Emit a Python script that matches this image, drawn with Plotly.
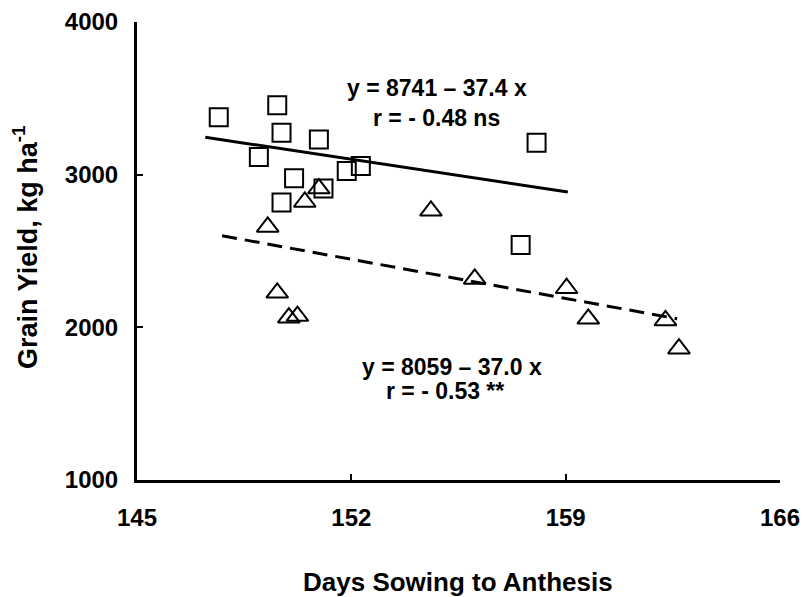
import plotly.graph_objects as go

# Squares series (upper group)
sq_days = [147.67, 149.58, 149.72, 150.94, 148.98, 150.13, 149.72, 151.09, 151.85, 152.31, 158.05, 157.53]
sq_yield = [3376, 3454, 3274, 3230, 3115, 2976, 2817, 2909, 3024, 3056, 3209, 2539]

# Triangles series (lower group)
tr_days = [149.27, 150.48, 150.94, 149.58, 149.96, 150.24, 154.6, 156.03, 159.03, 159.74, 162.26, 162.7]
tr_yield = [2658, 2821, 2909, 2226, 2063, 2074, 2763, 2317, 2256, 2056, 2045, 1860]

# Regression lines (end points)
fit1_days = [147.23, 159.07]
fit1_yield = [3245, 2887]
fit2_days = [147.78, 162.64]
fit2_yield = [2600, 2056]

x_ticks = [145, 152, 159, 166]
y_ticks = [1000, 2000, 3000, 4000]

FONT = "Liberation Sans, Arial, sans-serif"

fig = go.Figure()
fig.add_trace(go.Scatter(x=fit1_days, y=fit1_yield, mode="lines",
                         line=dict(color="black", width=3), showlegend=False))
fig.add_trace(go.Scatter(x=fit2_days, y=fit2_yield, mode="lines",
                         line=dict(color="black", width=3, dash="15px,8px"), showlegend=False))
fig.add_trace(go.Scatter(x=sq_days, y=sq_yield, mode="markers",
                         marker=dict(symbol="square-open", size=18, color="black",
                                     line=dict(color="black", width=2)),
                         showlegend=False))
fig.add_trace(go.Scatter(x=tr_days, y=tr_yield, mode="markers",
                         marker=dict(symbol="triangle-up-open", size=19, color="black",
                                     line=dict(color="black", width=2)),
                         showlegend=False))

axis_common = dict(showgrid=False, zeroline=False, showline=True, linecolor="black",
                   linewidth=3, ticks="inside", ticklen=6, tickwidth=2, tickcolor="black",
                   tickfont=dict(family=FONT, size=24, color="black", weight="bold"))

fig.update_xaxes(range=[145, 166], tickvals=x_ticks, ticktext=[str(v) for v in x_ticks],
                 ticklabelstandoff=14, **axis_common)
fig.update_yaxes(range=[1000, 4000], tickvals=y_ticks, ticktext=[str(v) for v in y_ticks],
                 ticklabelstandoff=11, **axis_common)

ann_font = dict(family=FONT, size=23, color="black", weight="bold")
annotations = [
    dict(x=154.79, y=3570, text="y = 8741 \u2013 37.4 x"),
    dict(x=154.79, y=3374, text="r = - 0.48 ns"),
    dict(x=155.28, y=1743, text="y = 8059 \u2013 37.0 x"),
    dict(x=155.05, y=1580, text="r = - 0.53 **"),
]
for a in annotations:
    fig.add_annotation(xref="x", yref="y", showarrow=False, font=ann_font, **a)

fig.add_annotation(xref="paper", yref="paper", x=0.499, y=-0.223, yanchor="middle",
                   text="Days Sowing to Anthesis", showarrow=False,
                   font=dict(family=FONT, size=26, color="black", weight="bold"))
fig.add_annotation(xref="paper", yref="paper", x=-0.174, y=0.507, xanchor="center",
                   yanchor="middle", textangle=-90,
                   text="Grain Yield, kg ha<sup>-1</sup>", showarrow=False,
                   font=dict(family=FONT, size=27, color="black", weight="bold"))

fig.update_layout(width=805, height=597, plot_bgcolor="white", paper_bgcolor="white",
                  margin=dict(l=137, r=25, t=22, b=117, autoexpand=False))

fig.write_html("out.html", config={"displayModeBar": False},
               post_script="document.body.style.margin='0';document.body.style.overflow='hidden';")
